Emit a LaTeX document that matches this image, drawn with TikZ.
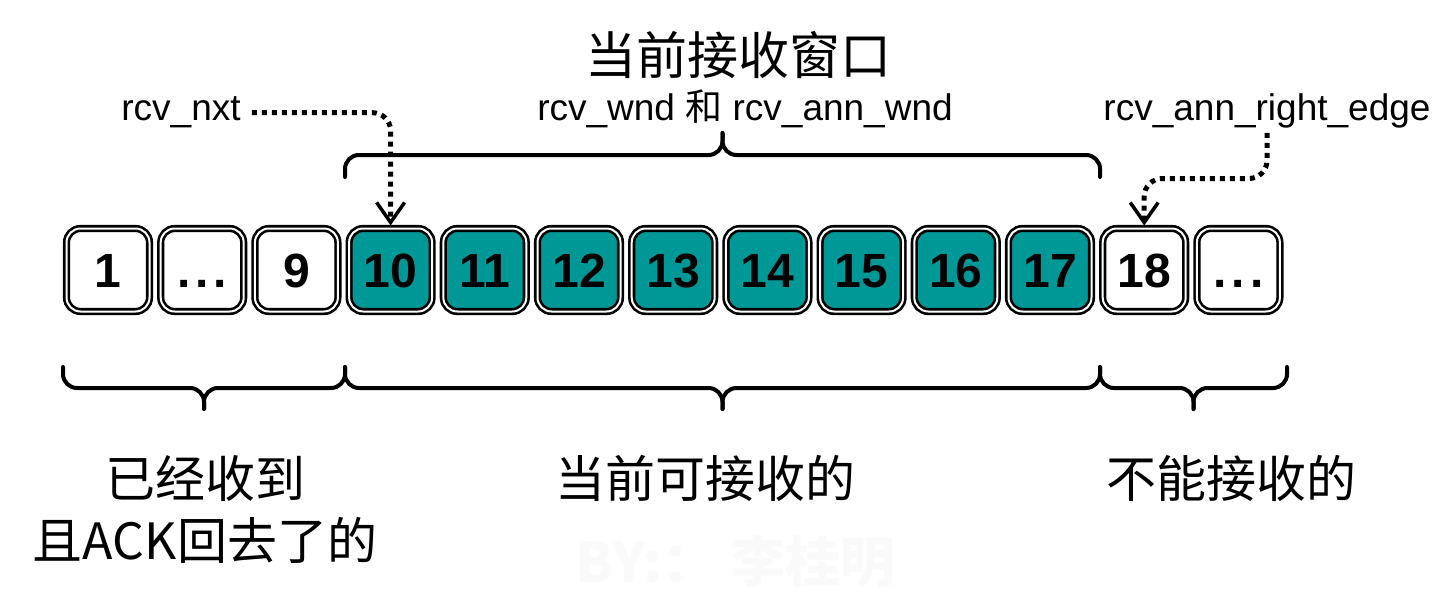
\documentclass[tikz,border=0pt]{standalone}
\usepackage{fontspec}
\setmainfont{Liberation Sans}
\newfontfamily\cjk{Noto Sans CJK SC}
\usetikzlibrary{positioning, arrows.meta}
\definecolor{wndteal}{RGB}{0,151,151}
\tikzset{
  cell/.style={rectangle, rounded corners=14pt, minimum size=83pt, inner sep=0pt, outer sep=0pt, draw=black, line width=2.6pt, double=white, double distance=2pt, fill=white, font=\fontsize{48}{48}\selectfont\bfseries, text height=35pt, text depth=0pt},
  wndcell/.style={cell, fill=wndteal},
  varname/.style={font=\fontsize{37}{37}\selectfont, anchor=base, inner sep=4pt},
  cjktext/.style={font=\cjk\fontsize{50}{62}\selectfont, align=center},
  curly/.style={line width=4pt, rounded corners=14pt, line cap=round},
  dotarrow/.style={line width=5pt, dash pattern=on 5pt off 5pt, rounded corners=18pt, -{Straight Barb[length=20pt, width=28pt, line width=3.5pt]}, shorten >=3pt}
}
% brace: left x, right x, y of the ends, height of one step
\newcommand{\wbrace}[4]{%
  \draw[curly] (#1,#3) |- ({(#1+#2)/2},{#3+#4}) -- ++(0,#4);
  \draw[curly] ({(#1+#2)/2},{#3+2*#4}) -- ({(#1+#2)/2},{#3+#4}) -| (#2,#3);
}

\begin{document}
\begin{tikzpicture}[x=1pt, y=-1pt, node distance=11.2pt]
    \useasboundingbox (0,0) rectangle (1455,591);

    % Watermark
    \node (mark) [font=\cjk\bfseries\fontsize{55}{55}\selectfont, text=black!2] at (735,562) {BY:：\ 李桂明};

    % Window title
    \node (title) [font=\cjk\fontsize{51}{51}\selectfont] at (738,55) {当前接收窗口};
    \node (wndname) [varname] at (745,121) {rcv\_wnd {\cjk 和} rcv\_ann\_wnd};
    \node (nxt) [varname] at (181,121) {rcv\_nxt};
    \node (edge) [varname] at (1267,121) {rcv\_ann\_right\_edge};

    % Sequence numbers
    \node (c1) [cell] at (108,270) {1};
    \node (c2) [cell, right=of c1] {.\hspace{5pt}.\hspace{5pt}.};
    \node (c3) [cell, right=of c2] {9};
    \node (c4) [wndcell, right=of c3] {10};
    \node (c5) [wndcell, right=of c4] {11};
    \node (c6) [wndcell, right=of c5] {12};
    \node (c7) [wndcell, right=of c6] {13};
    \node (c8) [wndcell, right=of c7] {14};
    \node (c9) [wndcell, right=of c8] {15};
    \node (c10) [wndcell, right=of c9] {16};
    \node (c11) [wndcell, right=of c10] {17};
    \node (c12) [cell, right=of c11] {18};
    \node (c13) [cell, right=of c12] {.\hspace{5pt}.\hspace{5pt}.};

    % Braces
    \wbrace{345}{1100}{177}{-22}
    \wbrace{63}{345}{367}{21}
    \wbrace{345}{1100}{367}{21}
    \wbrace{1100}{1287}{367}{21}

    % Captions
    \node (got) [cjktext] at (205,509) {已经收到\\且ACK回去了的};
    \node (canrcv) [cjktext] at (705,478) {当前可接收的};
    \node (cannot) [cjktext] at (1231,478) {不能接收的};

    % Pointers
    \draw [dotarrow] ([xshift=7pt]nxt.east) -| (c4.north);
    \draw [dotarrow] (edge.south) |- ([yshift=50pt]c12.north) -- (c12.north);
\end{tikzpicture}
\end{document}
